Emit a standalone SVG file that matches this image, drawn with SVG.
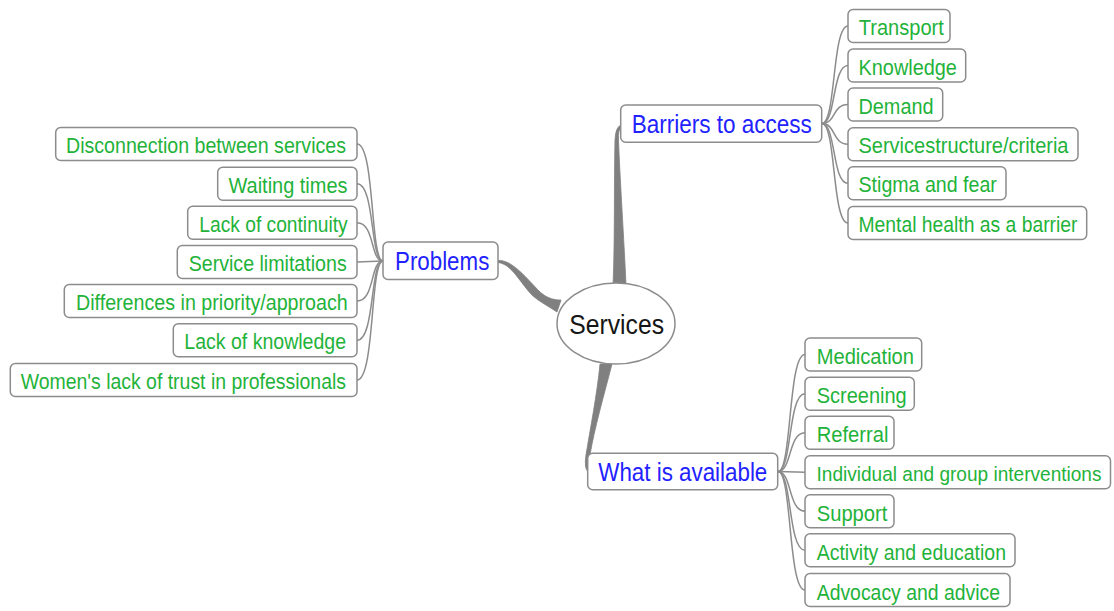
<svg xmlns="http://www.w3.org/2000/svg" width="1114" height="611" viewBox="0 0 1114 611">
<style>
.box{fill:#fff;stroke:#8c8c8c;stroke-width:1.5}
.t{font-family:"Liberation Sans",Arial,sans-serif;font-size:22px;fill:#1fb33a}
.b{font-family:"Liberation Sans",Arial,sans-serif;font-size:25px;fill:#2222ff}
.c{font-family:"Liberation Sans",Arial,sans-serif;font-size:27px;fill:#151515}
.ln{fill:none;stroke:#8c8c8c;stroke-width:1.5}
.thick{fill:#808080;stroke:#808080;stroke-width:0.8}
</style>
<rect width="1114" height="611" fill="#fff"/>
<g id="connectors">
  <path class="thick" d="M613,285 C615,240 614,180 615,140 Q615.5,127 621,125 L621,127.5 Q618,130 618.5,140 C620,180 624,240 626,285 Z"/>
  <path class="thick" d="M498,260.5 C512,259 528,280 540,292 C548,299 555,300 561,300 L557,312 C548,306 540,302 533,296 C520,283 512,264 498,262.5 Z"/>
  <path class="thick" d="M600,364 C597,395 590,430 586,455 Q584,468 588,472 L588.5,470 Q588,462 590,455 C594,430 604,395 612,364 Z"/>
  <path class="ln" d="M357,144 C375,144 370,261 383,261"/>
  <path class="ln" d="M357,183.7 C375,183.7 370,261 383,261"/>
  <path class="ln" d="M357,222.8 C375,222.8 370,261 383,261"/>
  <path class="ln" d="M357,262 L383,261"/>
  <path class="ln" d="M357,301 C375,301 370,261 383,261"/>
  <path class="ln" d="M357,340.3 C375,340.3 370,261 383,261"/>
  <path class="ln" d="M357,380 C375,380 370,261 383,261"/>
  <path class="ln" d="M822,123.6 C836,123.6 832,26 848,26"/>
  <path class="ln" d="M822,123.6 C836,123.6 832,65.5 848,65.5"/>
  <path class="ln" d="M822,123.6 C836,123.6 832,104.5 848,104.5"/>
  <path class="ln" d="M822,123.6 C836,123.6 832,144.2 848,144.2"/>
  <path class="ln" d="M822,123.6 C836,123.6 832,183.3 848,183.3"/>
  <path class="ln" d="M822,123.6 C836,123.6 832,223 848,223"/>
  <path class="ln" d="M778,471.5 C792,471.5 788,354.5 805,354.5"/>
  <path class="ln" d="M778,471.5 C792,471.5 788,393.7 805,393.7"/>
  <path class="ln" d="M778,471.5 C792,471.5 788,432.8 805,432.8"/>
  <path class="ln" d="M778,471.5 L805,472.2"/>
  <path class="ln" d="M778,471.5 C792,471.5 788,511.2 805,511.2"/>
  <path class="ln" d="M778,471.5 C792,471.5 788,550.3 805,550.3"/>
  <path class="ln" d="M778,471.5 C792,471.5 788,590 805,590"/>
</g>
<g id="services"><ellipse class="box" cx="616" cy="323.5" rx="59" ry="40.5"/><text class="c" x="569.3" y="334.3" textLength="94.7" lengthAdjust="spacingAndGlyphs">Services</text></g>
<g id="problems"><rect class="box" x="383" y="242" width="115" height="37.5" rx="5"/><text class="b" x="395" y="270" textLength="94.3" lengthAdjust="spacingAndGlyphs">Problems</text></g>
<g id="barriers"><rect class="box" x="620.7" y="105" width="201" height="37.3" rx="5"/><text class="b" x="631.7" y="133.3" textLength="180" lengthAdjust="spacingAndGlyphs">Barriers to access</text></g>
<g id="available"><rect class="box" x="587.7" y="453.2" width="190" height="36.5" rx="5"/><text class="b" x="598.3" y="480.5" textLength="169" lengthAdjust="spacingAndGlyphs">What is available</text></g>

<g id="p1"><rect class="box" x="55.7" y="127.5" width="301.3" height="33" rx="5"/><text class="t" x="66" y="153" textLength="280" lengthAdjust="spacingAndGlyphs">Disconnection between services</text></g>
<g id="p2"><rect class="box" x="217.7" y="167.2" width="139.3" height="33" rx="5"/><text class="t" x="228.5" y="192.7" textLength="119" lengthAdjust="spacingAndGlyphs">Waiting times</text></g>
<g id="p3"><rect class="box" x="187.7" y="206.3" width="169.3" height="33" rx="5"/><text class="t" x="199.3" y="231.8" textLength="148.4" lengthAdjust="spacingAndGlyphs">Lack of continuity</text></g>
<g id="p4"><rect class="box" x="177.3" y="245.5" width="179.7" height="33" rx="5"/><text class="t" x="188.7" y="271" textLength="158" lengthAdjust="spacingAndGlyphs">Service limitations</text></g>
<g id="p5"><rect class="box" x="64.3" y="284.5" width="292.7" height="33" rx="5"/><text class="t" x="76" y="310" textLength="271.7" lengthAdjust="spacingAndGlyphs">Differences in priority/approach</text></g>
<g id="p6"><rect class="box" x="173.3" y="323.8" width="183.7" height="33" rx="5"/><text class="t" x="184.3" y="349.3" textLength="161.7" lengthAdjust="spacingAndGlyphs">Lack of knowledge</text></g>
<g id="p7"><rect class="box" x="10.3" y="363.5" width="346.7" height="33" rx="5"/><text class="t" x="20.7" y="389" textLength="325.3" lengthAdjust="spacingAndGlyphs">Women's lack of trust in professionals</text></g>

<g id="b1"><rect class="box" x="848" y="9.5" width="102" height="33" rx="5"/><text class="t" x="858.8" y="35" textLength="85" lengthAdjust="spacingAndGlyphs">Transport</text></g>
<g id="b2"><rect class="box" x="848" y="49" width="117.7" height="33" rx="5"/><text class="t" x="858.5" y="74.5" textLength="98.4" lengthAdjust="spacingAndGlyphs">Knowledge</text></g>
<g id="b3"><rect class="box" x="848" y="88" width="94.7" height="33" rx="5"/><text class="t" x="858.5" y="113.5" textLength="75" lengthAdjust="spacingAndGlyphs">Demand</text></g>
<g id="b4"><rect class="box" x="848" y="127.7" width="230" height="33" rx="5"/><text class="t" x="858.5" y="153.2" textLength="210" lengthAdjust="spacingAndGlyphs">Servicestructure/criteria</text></g>
<g id="b5"><rect class="box" x="848" y="166.8" width="158" height="33" rx="5"/><text class="t" x="858.5" y="192.3" textLength="138.4" lengthAdjust="spacingAndGlyphs">Stigma and fear</text></g>
<g id="b6"><rect class="box" x="848" y="206.5" width="238.7" height="33" rx="5"/><text class="t" x="858.5" y="232" textLength="219" lengthAdjust="spacingAndGlyphs">Mental health as a barrier</text></g>

<g id="a1"><rect class="box" x="805" y="338" width="116.7" height="33" rx="5"/><text class="t" x="816.7" y="364" textLength="97.3" lengthAdjust="spacingAndGlyphs">Medication</text></g>
<g id="a2"><rect class="box" x="805" y="377.2" width="109.3" height="33" rx="5"/><text class="t" x="816.7" y="403.2" textLength="90" lengthAdjust="spacingAndGlyphs">Screening</text></g>
<g id="a3"><rect class="box" x="805" y="416.3" width="89" height="33" rx="5"/><text class="t" x="816.7" y="442.3" textLength="71.7" lengthAdjust="spacingAndGlyphs">Referral</text></g>
<g id="a4"><rect class="box" x="805" y="455.7" width="305.5" height="33" rx="5"/><text class="t" x="816.5" y="481" textLength="285" lengthAdjust="spacingAndGlyphs" style="font-size:19.3px">Individual and group interventions</text></g>
<g id="a5"><rect class="box" x="805" y="494.7" width="89" height="33" rx="5"/><text class="t" x="816.7" y="520.7" textLength="70.7" lengthAdjust="spacingAndGlyphs">Support</text></g>
<g id="a6"><rect class="box" x="805" y="533.8" width="210" height="33" rx="5"/><text class="t" x="816.7" y="559.8" textLength="189.3" lengthAdjust="spacingAndGlyphs">Activity and education</text></g>
<g id="a7"><rect class="box" x="805" y="573.5" width="205" height="33" rx="5"/><text class="t" x="816.7" y="599.5" textLength="183.3" lengthAdjust="spacingAndGlyphs">Advocacy and advice</text></g>
</svg>
